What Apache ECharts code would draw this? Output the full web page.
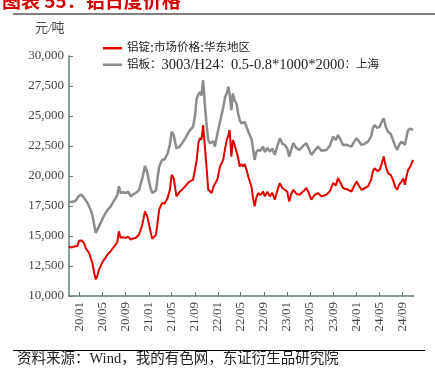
<!DOCTYPE html>
<html><head><meta charset="utf-8">
<script src="https://cdn.jsdelivr.net/npm/echarts@6/dist/echarts.min.js"></script>
<style>html,body{margin:0;padding:0;background:#fff}#c{width:435px;height:384px}</style>
</head><body><div id="c"></div>
<script>
const dates = ['2019-11-07','2019-11-23','2019-12-09','2019-12-21','2019-12-30','2020-01-12','2020-01-25','2020-02-04','2020-02-13','2020-02-21','2020-03-02','2020-03-09','2020-03-18','2020-03-27','2020-04-04','2020-04-13','2020-04-22','2020-05-04','2020-05-18','2020-05-30','2020-06-14','2020-06-26','2020-07-10','2020-07-19','2020-07-27','2020-08-06','2020-08-18','2020-09-02','2020-09-14','2020-09-28','2020-10-10','2020-10-24','2020-11-11','2020-11-28','2020-12-12','2020-12-24','2021-01-03','2021-01-12','2021-01-20','2021-02-08','2021-02-17','2021-02-25','2021-03-12','2021-03-26','2021-04-11','2021-04-22','2021-05-02','2021-05-13','2021-05-27','2021-06-14','2021-06-29','2021-07-15','2021-08-01','2021-08-23','2021-09-02','2021-09-11','2021-09-20','2021-09-28','2021-10-06','2021-10-15','2021-10-24','2021-11-03','2021-11-11','2021-11-20','2021-11-29','2021-12-08','2021-12-16','2021-12-29','2022-01-12','2022-01-29','2022-02-08','2022-02-17','2022-02-25','2022-03-04','2022-03-13','2022-03-21','2022-03-30','2022-04-09','2022-04-18','2022-04-26','2022-05-05','2022-05-13','2022-05-22','2022-06-01','2022-06-13','2022-06-27','2022-07-05','2022-07-14','2022-07-23','2022-08-01','2022-08-13','2022-08-27','2022-09-06','2022-09-19','2022-10-02','2022-10-15','2022-10-28','2022-11-11','2022-11-24','2022-12-07','2022-12-20','2023-01-02','2023-01-12','2023-01-23','2023-02-03','2023-02-20','2023-03-08','2023-03-26','2023-04-13','2023-04-25','2023-05-09','2023-05-26','2023-06-13','2023-07-02','2023-07-27','2023-08-14','2023-09-01','2023-09-15','2023-09-27','2023-10-11','2023-10-23','2023-11-12','2023-12-07','2023-12-19','2024-01-03','2024-01-15','2024-01-29','2024-02-16','2024-03-03','2024-03-20','2024-03-29','2024-04-08','2024-04-21','2024-05-04','2024-05-14','2024-05-25','2024-06-05','2024-06-17','2024-07-01','2024-07-13','2024-07-25','2024-08-04','2024-08-15','2024-08-27','2024-09-06','2024-09-14','2024-09-23','2024-10-01','2024-10-13','2024-10-27'];

const ingot = [14100,14050,14150,14150,14600,14620,14430,13960,13800,13600,13100,12770,12000,11380,11660,12200,12490,12900,13180,13500,13730,14000,14290,14500,15390,14840,14900,14840,14950,14700,14800,14840,15120,15950,17050,16640,15900,15260,14760,15120,16200,17190,17750,17700,18200,18800,20100,19800,18300,18700,18900,19200,19500,19700,20500,21340,22750,23170,23000,24250,22500,20510,18850,18900,18580,19100,19000,19700,20790,21340,22300,23000,23400,23830,21620,23000,22600,22450,21500,20790,21000,20790,21000,20510,19800,19130,18200,17470,18200,18580,18400,18710,18300,18700,18300,18600,18020,18800,19410,19000,18850,18700,17880,18500,18850,18500,18440,18700,19000,18600,18020,18400,18580,18300,18440,18700,19410,19200,19820,19400,19000,18900,18710,19100,19540,19200,18850,19000,19130,19700,20400,20650,20400,20510,21000,21620,20800,20240,20100,19680,19100,18850,19300,19540,19800,19270,20000,20510,20800,21340];

const plate = [17830,17850,17900,18150,18350,18440,18200,17950,17750,17610,17100,16780,16000,15260,15390,15800,16090,16500,16920,17200,17470,17800,18160,18400,19130,18580,18650,18580,18700,18300,18450,18580,18850,19820,20850,20300,19500,18900,18580,18800,19900,20790,21340,21400,21900,22600,23700,23400,22310,22450,22800,23200,23700,24110,25000,26460,26800,27010,26700,27980,26000,24110,23000,22730,22600,22900,22450,23500,24520,25700,26600,26900,27430,26800,25490,26880,26300,26050,25200,24660,24390,24300,24500,24520,23600,23100,22300,21340,22000,22170,22100,22450,22000,22350,22030,22300,21760,22500,23140,22700,22590,22300,21620,22200,22730,22300,22170,22500,22730,22300,21760,22100,22450,22100,22170,22500,23280,23000,23420,23000,22590,22600,22450,22800,23140,22900,22590,22700,22860,23300,24000,24250,24000,24110,24500,24800,24100,23690,23500,23000,22500,22170,22600,22860,23000,22590,23300,23830,23950,23830];

const tickDates = ['2020-01-01','2020-05-01','2020-09-01','2021-01-01','2021-05-01','2021-09-01','2022-01-01','2022-05-01','2022-09-01','2023-01-01','2023-05-01','2023-09-01','2024-01-01','2024-05-01','2024-09-01'];

const names = ['铝锭:市场价格:华东地区','铝板：3003/H24：0.5-0.8*1000*2000：上海'];

function ts(s){const p=s.split('-');return Date.UTC(+p[0],+p[1]-1,+p[2]);}
const tickTs = tickDates.map(ts);
const axisColor = '#5f7a7a';
const serif = '"Liberation Serif","Noto Sans CJK SC",serif';

const chart = echarts.init(document.getElementById('c'), null, {renderer:'canvas'});
chart.setOption({
  animation:false,
  grid:{left:69,right:21,top:56,bottom:88,containLabel:false},
  title:{text:'图表 55：铝日度价格',left:-3,top:-14,textStyle:{color:'#d40000',fontSize:19,fontWeight:'bold',fontFamily:'"Noto Sans CJK SC"'}},
  graphic:[
    {type:'line',shape:{x1:13,y1:14,x2:435,y2:14},style:{stroke:'#000',lineWidth:1}},
    {type:'line',shape:{x1:13,y1:350.5,x2:425,y2:350.5},style:{stroke:'#000',lineWidth:1}},
    {type:'text',left:17,top:352,style:{text:'资料来源：Wind，我的有色网，东证衍生品研究院',fill:'#222',font:'14.5px "Liberation Serif","Noto Sans CJK SC"'}},
    {type:'text',left:35,top:22,style:{text:'元/吨',fill:'#444',font:'13px "Liberation Serif","Noto Sans CJK SC"'}}
  ],
  legend:{orient:'vertical',left:98,top:36,itemGap:2,itemWidth:19,itemHeight:2.5,icon:'rect',
    formatter:function(n){return n.replace(/([\x21-\x7E]+)/g,'{a|$1}').replace(/([^\x00-\x7F{}|a]+)/g,'{c|$1}');},
    textStyle:{fontSize:12,fontFamily:serif,color:'#222',
      rich:{a:{fontSize:14.5,fontFamily:serif,color:'#222'},c:{fontSize:11.5,fontFamily:serif,color:'#222'}}},
    data:names},
  xAxis:{type:'value',min:ts('2019-11-07'),max:ts('2024-11-01'),
    axisLine:{lineStyle:{color:axisColor,width:1.5}},
    axisTick:{show:true,inside:true,length:4,customValues:tickTs,lineStyle:{color:axisColor}},
    axisLabel:{customValues:tickTs,rotate:90,fontSize:13,fontFamily:serif,color:'#444',margin:6,
      formatter:function(v){const d=new Date(v);const m=d.getUTCMonth()+1;return String(d.getUTCFullYear()).slice(2)+'/'+(m<10?'0'+m:m);}},
    splitLine:{show:false}},
  yAxis:{type:'value',min:10000,max:30000,interval:2500,
    axisLine:{show:true,lineStyle:{color:axisColor,width:1.5}},
    axisTick:{show:true,inside:true,length:4,lineStyle:{color:axisColor}},
    axisLabel:{fontSize:13,fontFamily:serif,color:'#444',margin:5,formatter:function(v){return v.toLocaleString('en-US');}},
    splitLine:{show:false}},
  series:[
    {name:names[0],type:'line',data:dates.map((d,i)=>[ts(d),ingot[i]]),showSymbol:false,symbol:'none',lineStyle:{color:'#e00000',width:2},itemStyle:{color:'#e00000'},z:3},
    {name:names[1],type:'line',data:dates.map((d,i)=>[ts(d),plate[i]]),showSymbol:false,symbol:'none',lineStyle:{color:'#8c8c8c',width:2.5},itemStyle:{color:'#8c8c8c'},z:2}
  ]
});
</script></body></html>
